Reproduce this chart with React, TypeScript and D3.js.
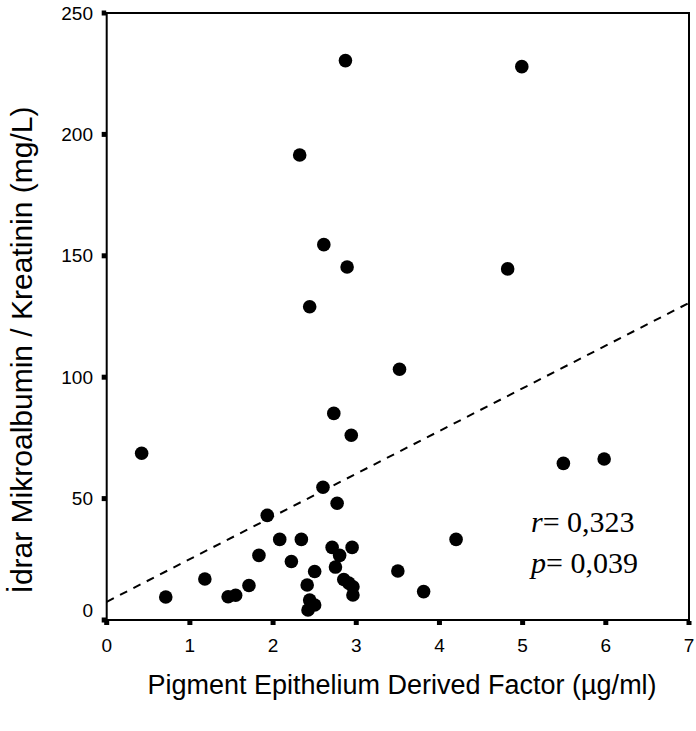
import React from "react";
import * as d3 from "d3";

const pedf = [0.42, 0.71, 1.18, 1.46, 1.55, 1.71, 1.83, 1.93, 2.08, 2.22, 2.34, 2.32, 2.44, 2.61, 2.89, 2.87, 4.99, 4.82, 3.52, 2.73, 2.94, 2.6, 2.77, 2.71, 2.95, 2.8, 2.5, 2.75, 2.41, 2.85, 2.91, 2.96, 2.96, 2.44, 2.5, 2.42, 3.5, 3.81, 4.2, 5.49, 5.98];
const ratio = [68.7, 9.5, 16.9, 9.6, 10.2, 14.2, 26.6, 43.1, 33.2, 24.1, 33.2, 191.5, 129, 154.6, 145.4, 230.4, 227.9, 144.6, 103.3, 85.1, 76.1, 54.7, 48.1, 29.9, 29.9, 26.6, 20.0, 21.8, 14.4, 16.7, 15.2, 13.7, 10.3, 8.2, 6.2, 4.1, 20.2, 11.7, 33.2, 64.5, 66.3];
const xTicks = [0, 1, 2, 3, 4, 5, 6, 7];
const yTicks = [0, 50, 100, 150, 200, 250];
const trendX = [0, 7];
const trendY = [7.5, 130.6];
const xTitle = "Pigment Epithelium Derived Factor (µg/ml)";
const yTitle = "İdrar Mikroalbumin / Kreatinin (mg/L)";
const rText = "0,323";
const pText = "0,039";

export default function App() {
  const left = 106.7, right = 689, top = 13, bottom = 620;
  const x = d3.scaleLinear().domain([0, 7]).range([left, right]);
  const y = d3.scaleLinear().domain([0, 250]).range([bottom, top]);
  const pts = pedf.map((v, i) => ({ x: v, y: ratio[i] }));
  const trend = trendX.map((v, i) => ({ x: v, y: trendY[i] }));
  const line = d3.line<{ x: number; y: number }>().x(d => x(d.x)).y(d => y(d.y));
  const sans = "'Liberation Sans', Arial, sans-serif";
  const serif = "'Liberation Serif', 'Times New Roman', serif";
  return (
    <svg width={696} height={731} style={{ position: "absolute", left: 0, top: 0, background: "#fff" }}>
      <rect x={0} y={0} width={696} height={731} fill="#fff" />
      <path d={line(trend) || ""} fill="none" stroke="#000" strokeWidth={2} strokeDasharray="8,7" />
      {pts.map((p, i) => (
        <circle key={i} cx={x(p.x)} cy={y(p.y)} r={6.8} fill="#000" />
      ))}
      <rect x={left} y={top} width={right - left} height={bottom - top} fill="none" stroke="#000" strokeWidth={2} />
      {xTicks.map(t => (
        <g key={"x" + t}>
          <rect x={x(t) - 2.5} y={bottom + 1} width={5} height={4} fill="#000" />
          <text x={x(t)} y={bottom + 32} textAnchor="middle" fontFamily={sans} fontSize={19}>{t}</text>
        </g>
      ))}
      {yTicks.map(t => (
        <g key={"y" + t}>
          <rect x={left - 5} y={y(t) - 2.5} width={4.5} height={5} fill="#000" />
          <text x={93} y={y(t) + (t === 0 ? -10 : 0)} dy="0.35em" textAnchor="end" fontFamily={sans} fontSize={19}>{t}</text>
        </g>
      ))}
      <text x={402} y={694} textAnchor="middle" fontFamily={sans} fontSize={27}>{xTitle}</text>
      <text transform={`translate(32,350) rotate(-90)`} textAnchor="middle" fontFamily={sans} fontSize={30}>{yTitle}</text>
      <text x={531} y={532} fontFamily={serif} fontSize={30}>
        <tspan fontStyle="italic">r</tspan>= {rText}
      </text>
      <text x={531} y={573} fontFamily={serif} fontSize={30}>
        <tspan fontStyle="italic">p</tspan>= {pText}
      </text>
    </svg>
  );
}
